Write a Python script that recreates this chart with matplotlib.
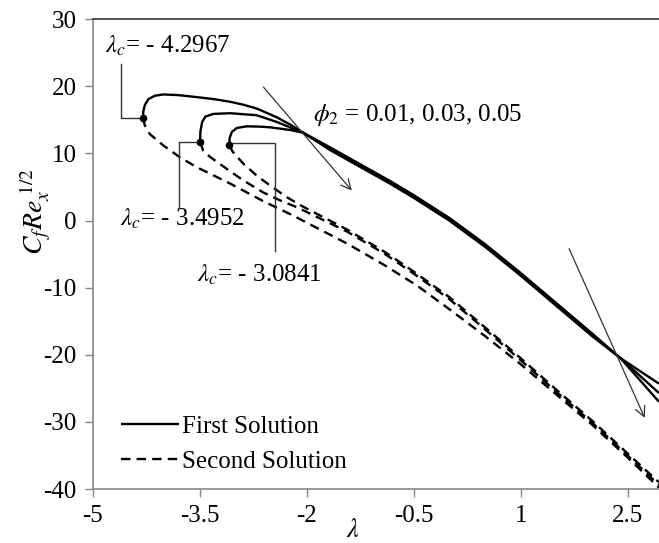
import matplotlib
matplotlib.use("Agg")
import matplotlib.pyplot as plt

plt.rcParams["font.family"] = ["Liberation Serif", "DejaVu Serif"]
plt.rcParams["mathtext.fontset"] = "stix"
plt.rcParams["axes.unicode_minus"] = False

# critical points (turning points)
LAMBDA_C = [-4.2967, -3.4952, -3.0841]
CF_C = [15.3, 11.7, 11.2]

# first solution (upper branches)
first_x = [
    [-4.2967, -4.29, -4.27, -4.22, -4.13, -4.01, -3.8, -3.54, -3.3, -3.07, -2.9, -2.70,
     -2.42, -2.23, -2.05, -1.67, -1.2, -0.83, -0.5, 0.0, 0.5, 1.0, 1.5, 2.0, 2.4, 2.94],
    [-3.4952, -3.49, -3.465, -3.42, -3.31, -3.07, -2.70, -2.42, -2.14, -2.05,
     -1.67, -1.2, -0.83, -0.5, 0.0, 0.5, 1.0, 1.5, 2.0, 2.4, 2.94],
    [-3.0841, -3.08, -3.05, -2.98, -2.84, -2.65, -2.51, -2.23, -2.05,
     -1.67, -1.2, -0.83, -0.5, 0.0, 0.5, 1.0, 1.5, 2.0, 2.4, 2.94],
]
first_y = [
    [15.3, 16.3, 17.2, 18.1, 18.6, 18.8, 18.7, 18.4, 18.1, 17.7, 17.3, 16.7,
     15.4, 14.3, 13.1, 10.5, 7.7, 5.5, 3.4, 0.0, -3.9, -8.2, -12.7, -17.2, -20.5, -24.3],
    [11.7, 13.3, 14.7, 15.5, 15.9, 16.0, 15.7, 14.7, 13.5, 13.1,
     10.7, 7.9, 5.7, 3.6, 0.2, -3.7, -8.0, -12.5, -17.0, -20.5, -25.7],
    [11.2, 12.3, 13.2, 13.8, 14.05, 14.0, 13.9, 13.5, 13.1,
     10.9, 8.1, 5.9, 3.8, 0.4, -3.5, -7.8, -12.3, -16.8, -20.5, -27.0],
]

# second solution (lower branches)
second_x = [
    [-4.2967, -4.27, -4.20, -4.01, -3.78, -3.54, -3.07, -2.61, -2.2, -1.42, -0.9, -0.45,
     0.0, 0.5, 1.0, 1.5, 2.0, 2.5, 2.94],
    [-3.4952, -3.45, -3.35, -3.12, -2.89, -2.61, -2.37, -2.14, -1.44, -0.9, -0.5,
     0.0, 0.5, 1.0, 1.5, 2.0, 2.5, 2.94],
    [-3.0841, -3.04, -2.99, -2.89, -2.70, -2.51, -2.28, -2.09, -1.44, -0.9, -0.5,
     0.0, 0.5, 1.0, 1.5, 2.0, 2.5, 2.94],
]
second_y = [
    [15.3, 14.2, 12.9, 11.2, 9.45, 7.95, 5.5, 2.9, 0.8, -3.5, -6.7, -9.7,
     -13.2, -17.2, -21.4, -25.9, -30.4, -35.3, -39.8],
    [11.7, 10.4, 9.45, 7.7, 6.0, 4.2, 3.0, 2.0, -1.6, -5.0, -7.9,
     -11.7, -16.2, -20.8, -25.5, -30.1, -35.0, -39.4],
    [11.2, 10.3, 9.7, 8.5, 6.7, 5.2, 3.5, 2.3, -1.3, -4.7, -7.6,
     -11.4, -15.9, -20.5, -25.2, -29.8, -34.7, -39.0],
]

x_ticks = [-5, -3.5, -2, -0.5, 1, 2.5]
y_ticks = [-40, -30, -20, -10, 0, 10, 20, 30]

fig = plt.figure(figsize=(6.59, 5.43), dpi=100)
ax = fig.add_axes([0.1407, 0.0994, 0.8593, 0.8651])

dash = (0, (4.0, 2.6))
for i in range(3):
    ax.plot(first_x[i], first_y[i], color="black", lw=1.7,
            label="First Solution" if i == 0 else None, solid_capstyle="butt")
    ax.plot(second_x[i], second_y[i], color="black", lw=1.7, linestyle=dash,
            label="Second Solution" if i == 0 else None)
ax.plot(LAMBDA_C, CF_C, "o", color="black", ms=4.5, zorder=5)

# connectors for the critical values
c = "#333333"
ax.plot([LAMBDA_C[0], -4.60, -4.60], [CF_C[0], CF_C[0], 23.4], color=c, lw=1.0)
ax.plot([LAMBDA_C[1], -3.79, -3.79], [CF_C[1], CF_C[1], 2.0], color=c, lw=1.0)
ax.plot([LAMBDA_C[2], -2.44, -2.44], [CF_C[2] + 0.3, CF_C[2] + 0.3, -4.6], color=c, lw=1.0)

fs = 18
ax.text(-4.83, 26.0, r"$\lambda_c$= - %.4f" % -LAMBDA_C[0], fontsize=fs, va="center", ha="left")
ax.text(-4.62, 0.3, r"$\lambda_c$= - %.4f" % -LAMBDA_C[1], fontsize=fs, va="center", ha="left")
ax.text(-3.54, -8.1, r"$\lambda_c$= - %.4f" % -LAMBDA_C[2], fontsize=fs, va="center", ha="left")
ax.text(-1.91, 15.8, r"$\phi_2$ = 0.01, 0.03, 0.05", fontsize=fs, va="center", ha="left")

arrow = dict(arrowstyle="->", lw=0.9, color=c, mutation_scale=18, shrinkA=0, shrinkB=0)
ax.annotate("", xy=(-1.367, 4.48), xytext=(-2.607, 19.9), arrowprops=arrow)
ax.annotate("", xy=(2.74, -29.4), xytext=(1.68, -4.2), arrowprops=arrow)

ax.set_xlim(-5, 2.94)
ax.set_ylim(-40, 30)
ax.set_xticks(x_ticks)
ax.set_xticklabels([f"{t:g}" for t in x_ticks])
ax.set_yticks(y_ticks)
ax.tick_params(axis="both", direction="out", length=5.5, width=1, color="#888888",
               labelsize=fs, pad=6)
for s in ["left", "bottom"]:
    ax.spines[s].set_color("#888888")
    ax.spines[s].set_linewidth(1.2)
ax.spines["right"].set_visible(False)
ax.spines["top"].set_color("#333333")
ax.spines["top"].set_linewidth(1.2)

ax.set_ylabel(r"$C_fRe_x^{\ 1/2}$", fontsize=20)
ax.yaxis.set_label_coords(-0.07, 0.59)
fig.text(0.536, 0.023, r"$\lambda$", fontsize=19, ha="center", va="center")

ax.legend(loc="lower left", bbox_to_anchor=(0.05, 0.035), frameon=False, fontsize=fs,
          handlelength=2.3, handletextpad=0.15, labelspacing=0.5,
          borderpad=0, borderaxespad=0)

fig.savefig("out.png", dpi=100)
